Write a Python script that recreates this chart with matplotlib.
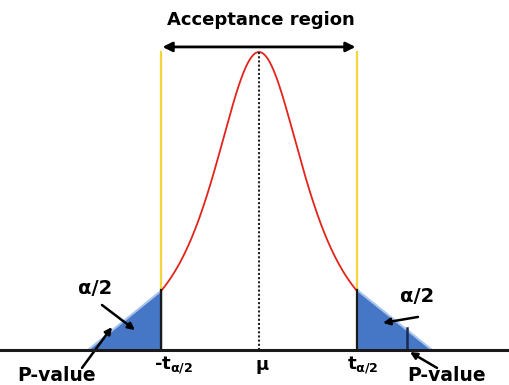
import numpy as np
import matplotlib.pyplot as plt

# t distribution (2 dof), critical value and the ends of the shaded tails
dof = 2
t_crit = 1.962
tail_left = -3.441
tail_right = 3.481

labels_axis = [r'-t$_{\mathregular{α/2}}$', 'μ', r't$_{\mathregular{α/2}}$']
label_pos = [-1.73, 0.06, 2.093]

def pdf(x):
    # t density scaled so the peak is 1
    return (1 + x**2 / dof) ** (-(dof + 1) / 2)

h = pdf(t_crit)

fig = plt.figure(figsize=(5.1, 3.85), dpi=100)
ax = fig.add_axes([0, 0, 1, 1])
ax.set_xlim(-5.211, 5.050)
ax.set_ylim(-0.1174, 1.1745)
ax.axis('off')

fnt = dict(family='DejaVu Sans', weight='bold')

# baseline
ax.axhline(0, color='#1a1a1a', lw=2.2, zorder=5)

# bell curve between the critical values
x = np.linspace(-t_crit, t_crit, 400)
ax.plot(x, pdf(x), color='#e3241c', lw=1.3, zorder=3)

# tails drawn as triangles
blue = '#4676c6'
edge = '#a9c4eb'
ax.fill([tail_left, -t_crit, -t_crit], [0, h, 0], color=blue, ec=edge, lw=1.5, zorder=2)
ax.fill([t_crit, t_crit, tail_right], [h, 0, 0], color=blue, ec=edge, lw=1.5, zorder=2)

# critical lines: yellow above the curve, black below
for s in (-1, 1):
    ax.plot([s * t_crit, s * t_crit], [h, 1.0], color='#f7d43c', lw=1.6, zorder=2)
    ax.plot([s * t_crit, s * t_crit], [0, h], color='#1a1a1a', lw=1.6, zorder=4)

# mean line
ax.plot([0, 0], [0, 1.0], color='#222222', lw=1.5, ls=(0, (1, 1)), zorder=4)

# acceptance region arrow
ax.annotate('', xy=(-t_crit + 0.02, 1.017), xytext=(t_crit - 0.02, 1.017),
            arrowprops=dict(arrowstyle='<|-|>', color='black', lw=2,
                            mutation_scale=14, shrinkA=0, shrinkB=0))
ax.text(0.04, 1.107, 'Acceptance region', ha='center', va='center', fontsize=13, **fnt)

# axis labels
for lab, xp in zip(labels_axis, label_pos):
    ax.text(xp, -0.05, lab, ha='center', va='center', fontsize=13, **fnt)

arr = dict(arrowstyle='-|>', color='black', lw=1.8, mutation_scale=10, shrinkA=0, shrinkB=0)

# left tail labels
ax.text(-3.30, 0.208, 'α/2', ha='center', va='center', fontsize=14, **fnt)
ax.annotate('', xy=(-2.495, 0.067), xytext=(-3.159, 0.151), arrowprops=arr)
ax.text(-4.064, -0.087, 'P-value', ha='center', va='center', fontsize=13.5, **fnt)
ax.annotate('', xy=(-2.958, 0.077), xytext=(-3.561, -0.06), arrowprops=arr)

# right tail labels
ax.text(3.179, 0.178, 'α/2', ha='center', va='center', fontsize=14, **fnt)
ax.annotate('', xy=(2.495, 0.091), xytext=(3.199, 0.111), arrowprops=arr)
ax.plot([2.978, 2.978], [0, 0.075], color='#1a2a50', lw=1.8, zorder=4)
ax.text(3.783, -0.087, 'P-value', ha='center', va='center', fontsize=13.5, **fnt)
ax.annotate('', xy=(3.038, -0.007), xytext=(3.581, -0.06), arrowprops=arr)

fig.savefig('out.png', dpi=100)
